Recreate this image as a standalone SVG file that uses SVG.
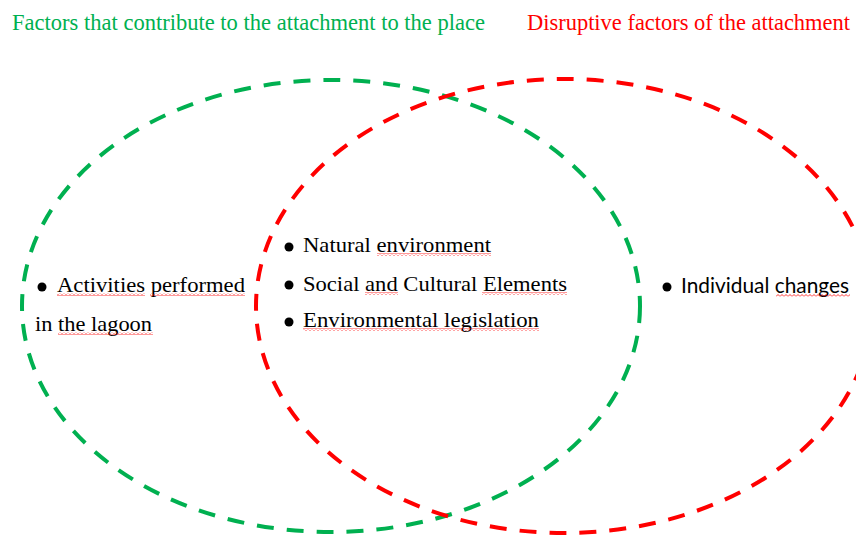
<svg xmlns="http://www.w3.org/2000/svg" width="856" height="537" viewBox="0 0 856 537">
<style>
.ring{fill:none;stroke-width:4;stroke-dasharray:17 13}
.g{stroke:#00B050}
.r{stroke:#FF0000}
.t{font-family:"Liberation Serif","Times New Roman",serif;font-size:22px;fill:#000}
.s{font-family:Lato,"Liberation Sans",sans-serif;font-size:22px;fill:#000}
.title{font-family:"Liberation Serif","Times New Roman",serif;font-size:23px}
.sq{fill:url(#squig)}
</style>
<defs>
<pattern id="squig" x="0" y="0" width="4" height="3" patternUnits="userSpaceOnUse">
<path d="M0 2.5 L2 0.5 L4 2.5" fill="none" stroke="#FF0000" stroke-width="0.8"/>
</pattern>
</defs>
<rect width="856" height="537" fill="#fff"/>
<g id="titles">
<text class="title" x="12" y="30" fill="#00B050" textLength="473" lengthAdjust="spacingAndGlyphs">Factors that contribute to the attachment to the place</text>
<text class="title" x="527" y="30" fill="#FF0000" textLength="323" lengthAdjust="spacingAndGlyphs">Disruptive factors of the attachment</text>
</g>
<g id="connectors">
<ellipse id="green-set" class="ring g" cx="331" cy="306" rx="309" ry="226"/>
<ellipse id="red-set" class="ring r" cx="564" cy="306" rx="308" ry="227"/>
</g>
<g id="node-left">
<circle cx="42" cy="287" r="4.5" fill="#000"/>
<text class="t" x="57" y="292" textLength="188" lengthAdjust="spacingAndGlyphs">Activities performed</text>
<text class="t" x="35" y="331" textLength="117" lengthAdjust="spacingAndGlyphs">in the lagoon</text>
<rect class="sq" x="57" y="293" width="88" height="3"/>
<rect class="sq" x="150" y="293" width="95" height="3"/>
<rect class="sq" x="58" y="332" width="95" height="3"/>
</g>
<g id="node-middle">
<circle cx="289" cy="247" r="4.5" fill="#000"/>
<circle cx="289" cy="285" r="4.5" fill="#000"/>
<circle cx="289" cy="322" r="4.5" fill="#000"/>
<text class="t" x="303" y="252" textLength="188" lengthAdjust="spacingAndGlyphs">Natural environment</text>
<text class="t" x="303" y="291" textLength="264" lengthAdjust="spacingAndGlyphs">Social and Cultural Elements</text>
<text class="t" x="303" y="327" textLength="236" lengthAdjust="spacingAndGlyphs">Environmental legislation</text>
<rect class="sq" x="377" y="253" width="114" height="3"/>
<rect class="sq" x="365" y="292" width="33" height="3"/>
<rect class="sq" x="482" y="292" width="85" height="3"/>
<rect class="sq" x="303" y="328" width="236" height="3"/>
</g>
<g id="node-right">
<circle cx="667" cy="287" r="4.5" fill="#000"/>
<text class="s" x="681" y="293" textLength="168" lengthAdjust="spacingAndGlyphs">Individual changes</text>
<rect class="sq" x="776" y="294" width="74" height="3"/>
</g>
</svg>
